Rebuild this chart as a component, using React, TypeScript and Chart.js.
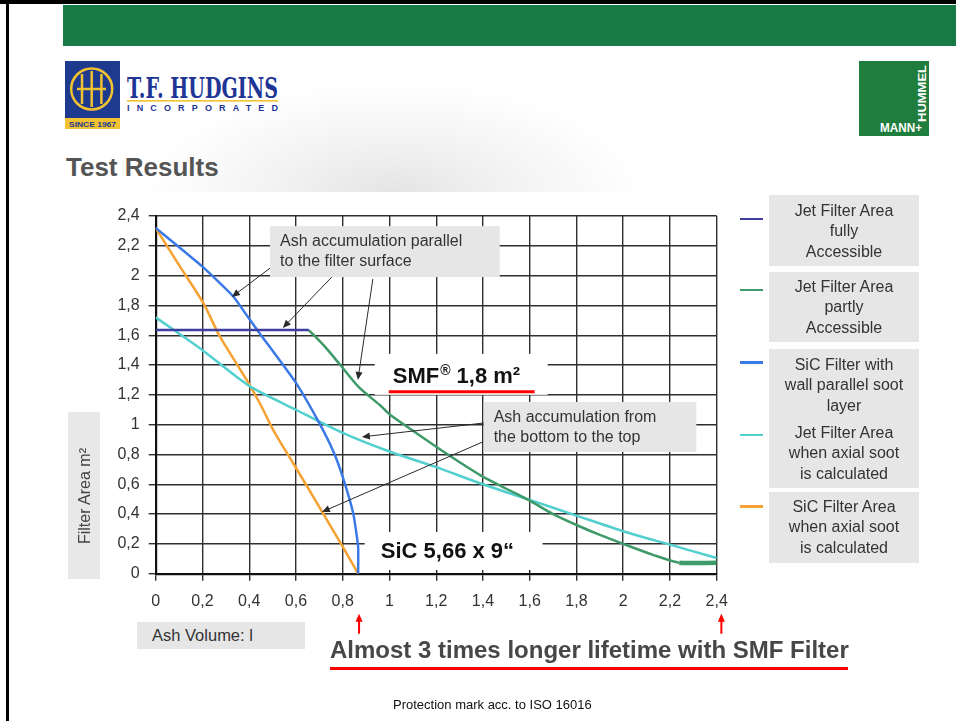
import React, { useEffect, useRef } from 'react';
import { Chart, registerables } from 'chart.js';

Chart.register(...registerables);

const FONT = "'Liberation Sans', Arial, Helvetica, sans-serif";

// ---------- data ----------
const xTickLabels = ['0', '0,2', '0,4', '0,6', '0,8', '1', '1,2', '1,4', '1,6', '1,8', '2', '2,2', '2,4'];
const yTickLabels = ['0', '0,2', '0,4', '0,6', '0,8', '1', '1,2', '1,4', '1,6', '1,8', '2', '2,2', '2,4'];

const seriesLabels = [
  'Jet Filter Area\nfully\nAccessible',
  'Jet Filter Area\npartly\nAccessible',
  'SiC Filter with\nwall parallel soot\nlayer',
  'Jet Filter Area\nwhen axial soot\nis calculated',
  'SiC Filter Area\nwhen axial soot\nis calculated',
];
const seriesColors = ['#3e3e9f', '#3f9a6a', '#3b79e6', '#52cfcf', '#f5a233'];

const jetFullX = [0, 0.655];
const jetFullY = [1.635, 1.635];

const jetPartX = [0.655, 0.72, 0.79, 0.87, 0.96, 1.0, 1.1, 1.24, 1.39, 1.5, 1.6, 1.7, 1.81, 1.9, 2.0, 2.13, 2.24, 2.4];
const jetPartY = [1.635, 1.53, 1.4, 1.25, 1.13, 1.07, 0.96, 0.81, 0.66, 0.57, 0.49, 0.4, 0.32, 0.26, 0.2, 0.125, 0.074, 0.074];

const sicWallX = [0, 0.2, 0.332, 0.4, 0.446, 0.6, 0.7, 0.76, 0.8, 0.845, 0.866, 0.866];
const sicWallY = [2.32, 2.06, 1.86, 1.71, 1.61, 1.28, 1.01, 0.82, 0.65, 0.405, 0.18, 0];

const jetAxialX = [0, 0.2, 0.4, 0.6, 0.8, 1.0, 1.2, 1.4, 1.6, 1.8, 2.0, 2.2, 2.4];
const jetAxialY = [1.72, 1.5, 1.26, 1.1, 0.945, 0.82, 0.715, 0.6, 0.495, 0.39, 0.285, 0.195, 0.105];

const sicAxialX = [0, 0.1, 0.204, 0.275, 0.389, 0.45, 0.503, 0.588, 0.65, 0.716, 0.8, 0.866];
const sicAxialY = [2.32, 2.07, 1.815, 1.59, 1.3, 1.13, 0.964, 0.741, 0.58, 0.405, 0.181, 0];

const seriesX = [jetFullX, jetPartX, sicWallX, jetAxialX, sicAxialX];
const seriesY = [jetFullY, jetPartY, sicWallY, jetAxialY, sicAxialY];

// ---------- annotations (data units) ----------
const noteBoxes = [
  { x0: 0.489, x1: 1.472, y0: 2.332, y1: 1.99, lines: ['Ash accumulation parallel', 'to the filter surface'] },
  { x0: 1.403, x1: 2.313, y0: 1.152, y1: 0.817, lines: ['Ash accumulation from', 'the bottom to the top'] },
];
const whiteBoxes = [
  { x0: 0.937, x1: 1.677, y0: 1.475, y1: 1.2 },
  { x0: 0.894, x1: 1.655, y0: 0.28, y1: 0.025 },
];
const arrowFrom = [[0.489, 2.05], [0.753, 1.99], [0.929, 1.977], [1.403, 1.011], [1.399, 0.884]];
const arrowTo = [[0.326, 1.857], [0.544, 1.649], [0.865, 1.3], [0.882, 0.918], [0.711, 0.414]];
const redArrowX = [0.87, 2.42];

function drawArrow(ctx: CanvasRenderingContext2D, x0: number, y0: number, x1: number, y1: number, color: string, width: number, head: number, half: number) {
  const a = Math.atan2(y1 - y0, x1 - x0);
  ctx.strokeStyle = color;
  ctx.fillStyle = color;
  ctx.lineWidth = width;
  ctx.beginPath();
  ctx.moveTo(x0, y0);
  ctx.lineTo(x1 - Math.cos(a) * head * 0.8, y1 - Math.sin(a) * head * 0.8);
  ctx.stroke();
  ctx.beginPath();
  ctx.moveTo(x1, y1);
  ctx.lineTo(x1 - Math.cos(a) * head + Math.sin(a) * half, y1 - Math.sin(a) * head - Math.cos(a) * half);
  ctx.lineTo(x1 - Math.cos(a) * head - Math.sin(a) * half, y1 - Math.sin(a) * head + Math.cos(a) * half);
  ctx.closePath();
  ctx.fill();
}

const notesPlugin = {
  id: 'notes',
  beforeDatasetsDraw(chart: any) {
    const { ctx } = chart;
    const xs = chart.scales.x;
    const ys = chart.scales.y;
    ctx.save();
    for (const b of noteBoxes) {
      const l = xs.getPixelForValue(b.x0), r = xs.getPixelForValue(b.x1);
      const t = ys.getPixelForValue(b.y0), bt = ys.getPixelForValue(b.y1);
      ctx.fillStyle = '#e6e6e6';
      ctx.fillRect(l, t, r - l, bt - t);
      ctx.fillStyle = '#333';
      ctx.font = `16px ${FONT}`;
      ctx.textBaseline = 'middle';
      ctx.textAlign = 'left';
      b.lines.forEach((s, i) => ctx.fillText(s, l + 10, t + 15.5 + i * 20.3));
    }
    for (const w of whiteBoxes) {
      const l = xs.getPixelForValue(w.x0), r = xs.getPixelForValue(w.x1);
      const t = ys.getPixelForValue(w.y0), bt = ys.getPixelForValue(w.y1);
      ctx.fillStyle = '#ffffff';
      ctx.fillRect(l, t, r - l, bt - t);
    }
    ctx.restore();
  },
  afterDatasetsDraw(chart: any) {
    const { ctx, chartArea } = chart;
    const xs = chart.scales.x;
    const ys = chart.scales.y;
    ctx.save();
    arrowFrom.forEach((f, i) => {
      const t = arrowTo[i];
      drawArrow(ctx, xs.getPixelForValue(f[0]), ys.getPixelForValue(f[1]), xs.getPixelForValue(t[0]), ys.getPixelForValue(t[1]), '#2a2a2a', 1, 8, 3.5);
    });
    ctx.fillStyle = '#111';
    ctx.textBaseline = 'alphabetic';
    ctx.textAlign = 'left';
    let px = xs.getPixelForValue(1.014);
    const py = ys.getPixelForValue(1.278);
    ctx.font = `bold 22px ${FONT}`;
    ctx.fillText('SMF', px, py);
    px += ctx.measureText('SMF').width + 1;
    ctx.font = `bold 14px ${FONT}`;
    ctx.fillText('®', px, py - 8);
    px += ctx.measureText('®').width;
    ctx.font = `bold 22px ${FONT}`;
    ctx.fillText(' 1,8 m²', px, py);
    ctx.strokeStyle = '#ff0000';
    ctx.lineWidth = 3;
    ctx.beginPath();
    const uy = ys.getPixelForValue(1.221);
    ctx.moveTo(xs.getPixelForValue(0.997), uy);
    ctx.lineTo(xs.getPixelForValue(1.621), uy);
    ctx.stroke();
    ctx.fillStyle = '#111';
    ctx.font = `bold 22px ${FONT}`;
    ctx.fillText('SiC 5,66 x 9\u201C', xs.getPixelForValue(0.963), ys.getPixelForValue(0.103));
    for (const v of redArrowX) {
      const x = xs.getPixelForValue(v);
      drawArrow(ctx, x, chartArea.bottom + 60, x, chartArea.bottom + 40, '#ff0000', 2, 8, 3.5);
    }
    ctx.restore();
  },
};

function ChartCanvas() {
  const ref = useRef<HTMLCanvasElement | null>(null);
  useEffect(() => {
    if (!ref.current) return;
    const datasets = seriesLabels.map((label, i) => ({
      label: label.replace(/\n/g, ' '),
      data: seriesX[i].map((xv, j) => ({ x: xv, y: seriesY[i][j] })),
      borderColor: seriesColors[i],
      backgroundColor: seriesColors[i],
      borderWidth: 2.5,
      pointRadius: 0,
      showLine: true,
      tension: i === 0 ? 0 : i === 2 ? 0.15 : 0.25,
      segment: i === 1 ? { borderWidth: (c: any) => (c.p0DataIndex === jetPartX.length - 2 ? 4.5 : undefined) } : undefined,
    }));
    const tickFont = { size: 16, family: FONT };
    const chart = new Chart(ref.current, {
      type: 'scatter',
      data: { datasets } as any,
      plugins: [notesPlugin],
      options: {
        animation: false,
        responsive: false,
        maintainAspectRatio: false,
        events: [],
        layout: { padding: { left: 0, top: 216, right: 239.3, bottom: 107.3 } },
        plugins: { legend: { display: false }, tooltip: { enabled: false } },
        scales: {
          x: {
            type: 'linear',
            min: 0,
            max: 2.4,
            ticks: { stepSize: 0.2, color: '#333', font: tickFont, padding: 11, maxRotation: 0, autoSkip: false, callback: (_v: any, i: number) => xTickLabels[i] },
            grid: { color: '#2e2e2e', lineWidth: 1.4, tickLength: 7, drawTicks: true },
            border: { color: '#111', width: 2.2 },
            afterFit: (s: any) => { s.height = 40; },
          },
          y: {
            type: 'linear',
            min: 0,
            max: 2.4,
            ticks: { stepSize: 0.2, color: '#333', font: tickFont, padding: 9, autoSkip: false, callback: (_v: any, i: number) => yTickLabels[i] },
            grid: { color: '#2e2e2e', lineWidth: 1.4, tickLength: 7, drawTicks: true },
            border: { color: '#111', width: 2.2 },
            afterFit: (s: any) => { s.width = 155.7; },
          },
        },
      } as any,
    });
    return () => chart.destroy();
  }, []);
  return <canvas ref={ref} width={956} height={721} style={{ position: 'absolute', left: 0, top: 0, width: 956, height: 721 }} />;
}

const legendBoxTop = [195, 272, 349, 419, 492];
const legendBoxH = [71, 70, 70, 69, 71];
const legendMarkerY = [219, 290, 362.7, 435, 506.7];
const legendTextTop = [200.5, 276.5, 354.5, 422.8, 496.8];

function Legend() {
  return (
    <>
      {seriesLabels.map((lab, i) => (
        <React.Fragment key={i}>
          <div style={{ position: 'absolute', left: 740, top: legendMarkerY[i] - 1.25, width: 23, height: 2.5, background: seriesColors[i] }} />
          <div style={{ position: 'absolute', left: 769, top: legendBoxTop[i], width: 150, height: legendBoxH[i], background: '#e6e6e6' }} />
          <div style={{ position: 'absolute', left: 769, top: legendTextTop[i], width: 150, textAlign: 'center', whiteSpace: 'pre-line', fontSize: 16, lineHeight: '20.5px', color: '#333', fontFamily: FONT }}>{lab}</div>
        </React.Fragment>
      ))}
    </>
  );
}

function HudginsLogo() {
  const blue = '#1f3596';
  const yellow = '#f2c230';
  return (
    <svg style={{ position: 'absolute', left: 65, top: 61 }} width={220} height={70}>
      <rect x={0} y={0} width={55} height={57} fill="#1d3a8f" />
      <rect x={0} y={57} width={55} height={11} fill={yellow} />
      <text x={27.5} y={65.5} fontSize={7.5} fontWeight="bold" fill="#1d3a8f" textAnchor="middle" fontFamily={FONT} textLength={47} lengthAdjust="spacingAndGlyphs">SINCE 1967</text>
      <circle cx={26.7} cy={28} r={20.5} stroke={yellow} strokeWidth={2.5} fill="none" />
      <line x1={17} y1={13} x2={17} y2={43} stroke={yellow} strokeWidth={2.5} />
      <line x1={26.7} y1={10} x2={26.7} y2={46} stroke={yellow} strokeWidth={2.5} />
      <line x1={36.4} y1={13} x2={36.4} y2={43} stroke={yellow} strokeWidth={2.5} />
      <line x1={12} y1={28} x2={41} y2={28} stroke={yellow} strokeWidth={2.5} />
      <text x={62} y={37} fontSize={27} fontWeight="bold" fill={blue} fontFamily="'DejaVu Serif', serif" textLength={151} lengthAdjust="spacingAndGlyphs">T.F. HUDGINS</text>
      <rect x={62} y={39} width={151} height={1.6} fill={yellow} />
      <text x={62} y={50} fontSize={9} fontWeight="bold" fill={blue} fontFamily={FONT} textLength={151} lengthAdjust="spacing">INCORPORATED</text>
    </svg>
  );
}

function MannLogo() {
  return (
    <svg style={{ position: 'absolute', left: 859, top: 61 }} width={70} height={75}>
      <rect x={0} y={0} width={70} height={75} fill="#1f7d3e" />
      <text transform="translate(67,61) rotate(-90)" x={0} y={0} fontSize={11.5} fontWeight="bold" fill="#fff" fontFamily={FONT} textLength={57} lengthAdjust="spacingAndGlyphs">HUMMEL</text>
      <text x={21} y={70.5} fontSize={12} fontWeight="bold" fill="#fff" fontFamily={FONT} textLength={42} lengthAdjust="spacingAndGlyphs">MANN+</text>
    </svg>
  );
}

export default function App() {
  return (
    <div style={{ position: 'absolute', left: 0, top: 0, width: 956, height: 721, overflow: 'hidden', background: '#fff', fontFamily: FONT }}>
      <div style={{ position: 'absolute', left: 63, top: 46, width: 600, height: 146, background: 'radial-gradient(ellipse 250px 115px at 330px 150px, #e4e4e4 0%, #f3f3f3 50%, #ffffff 100%)' }} />
      <div style={{ position: 'absolute', left: 0, top: 0, width: 956, height: 4, background: '#000' }} />
      <div style={{ position: 'absolute', left: 6, top: 0, width: 3, height: 721, background: '#000' }} />
      <div style={{ position: 'absolute', left: 63, top: 5, width: 893, height: 41, background: '#187a44' }} />
      <HudginsLogo />
      <MannLogo />
      <div style={{ position: 'absolute', left: 66, top: 152, fontSize: 26, lineHeight: '30px', fontWeight: 'bold', color: '#555' }}>Test Results</div>
      <ChartCanvas />
      <Legend />
      <div style={{ position: 'absolute', left: 68, top: 412, width: 32, height: 167, background: '#e8e8e8' }}>
        <div style={{ position: 'absolute', left: (32 - 167) / 2, top: (167 - 32) / 2, width: 167, height: 32, lineHeight: '32px', textAlign: 'center', transform: 'rotate(-90deg)', fontSize: 16, color: '#444', whiteSpace: 'nowrap' }}>
          Filter Area m²
        </div>
      </div>
      <div style={{ position: 'absolute', left: 137, top: 622, width: 168, height: 27, background: '#e6e6e6', fontSize: 16.5, lineHeight: '27px', color: '#333', paddingLeft: 15, boxSizing: 'border-box' }}>Ash Volume: l</div>
      <div style={{ position: 'absolute', left: 330, top: 638, fontSize: 24, lineHeight: '24px', fontWeight: 'bold', color: '#474747', whiteSpace: 'nowrap' }}>Almost 3 times longer lifetime with SMF Filter</div>
      <div style={{ position: 'absolute', left: 330, top: 666.5, width: 518, height: 3, background: '#ff0000' }} />
      <div style={{ position: 'absolute', left: 393, top: 697, fontSize: 13, lineHeight: '16px', color: '#111', whiteSpace: 'nowrap' }}>Protection mark acc. to ISO 16016</div>
    </div>
  );
}
